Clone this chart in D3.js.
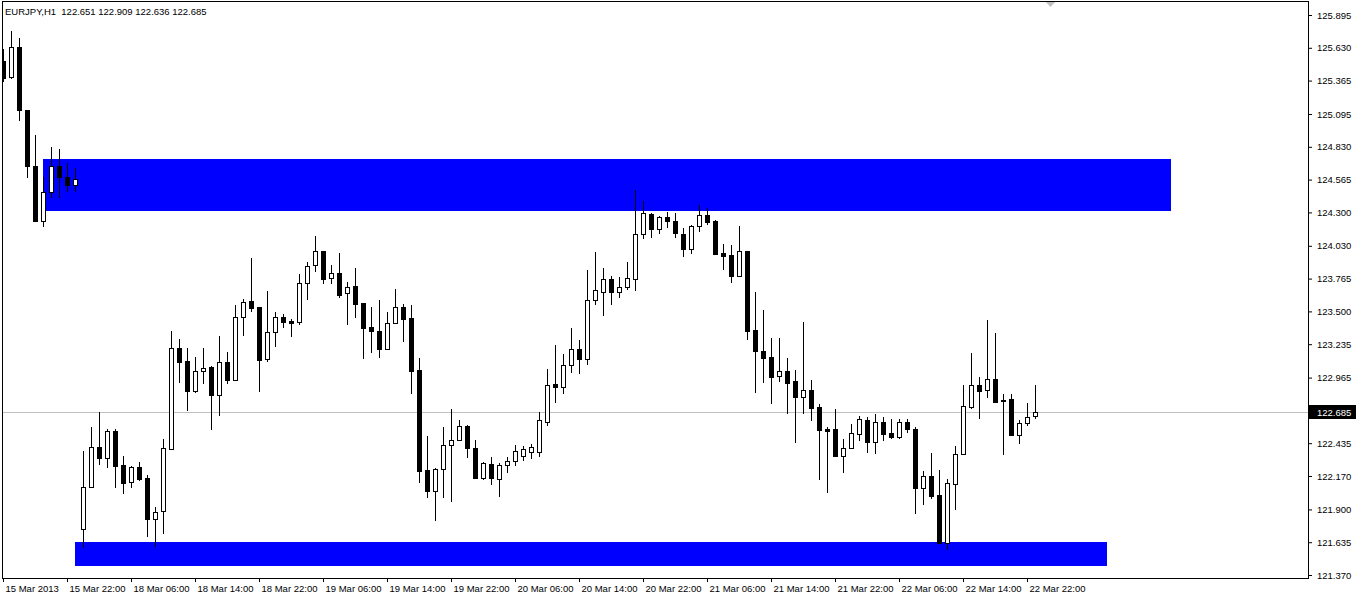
<!DOCTYPE html>
<html>
<head>
<meta charset="utf-8">
<script src="https://cdn.jsdelivr.net/npm/d3@7"></script>
<style>
	html, body { margin:0; padding:0; background:#fff; }
	svg { display:block; }
	text { font-family:"Liberation Sans", Arial, sans-serif; font-size:9.5px; fill:#000; }
</style>
</head>
<body>
<svg id="chart" width="1356" height="597"></svg>
<script>
var symbol = "EURJPY,H1";

// hourly bars, one entry per candle (15 Mar 14:00 .. 22 Mar 23:00)
var opens = [
	125.523,125.394,125.636,125.127,124.675,124.230,124.465,124.675,124.586,124.521,
	121.745,122.081,122.404,122.315,122.534,122.259,122.121,122.243,122.154,121.822,
	121.887,122.388,123.204,123.099,122.857,123.018,123.051,122.824,123.091,122.946,
	123.455,123.584,123.535,123.115,123.333,123.455,123.422,123.414,123.729,123.875,
	123.988,123.770,123.810,123.649,123.705,123.568,123.374,123.342,123.196,123.406,
	123.535,123.447,123.026,122.218,122.049,122.226,122.420,122.461,122.574,122.396,
	122.154,122.267,122.146,122.259,122.291,122.332,122.364,122.364,122.606,122.913,
	122.889,123.067,123.196,123.115,123.592,123.657,123.762,123.657,123.697,123.762,
	124.125,124.287,124.166,124.263,124.230,124.125,124.004,124.190,124.279,124.230,
	123.972,123.956,123.786,123.988,123.350,123.180,123.131,122.978,123.018,122.938,
	122.808,122.865,122.727,122.550,122.550,122.332,122.396,122.509,122.622,122.445,
	122.606,122.517,122.485,122.606,122.550,122.073,122.170,122.016,121.629,122.105,
	122.348,122.727,122.905,122.865,122.954,122.784,122.792,122.501,122.598,122.651
];
var highs = [
	125.620,125.766,125.709,125.127,124.925,124.586,124.828,124.812,124.699,124.659,
	122.376,122.566,122.687,122.550,122.550,122.332,122.251,122.283,122.178,121.919,
	122.469,123.342,123.277,123.204,123.131,123.204,123.059,123.301,123.172,123.552,
	123.600,123.931,123.535,123.665,123.495,123.479,123.438,123.802,123.899,124.109,
	123.988,123.875,123.972,123.737,123.851,123.568,123.535,123.592,123.495,123.681,
	123.560,123.552,123.123,122.493,122.234,122.566,122.711,122.622,122.582,122.461,
	122.283,122.323,122.275,122.323,122.420,122.412,122.428,122.687,123.034,123.228,
	123.156,123.366,123.269,123.834,123.980,123.851,123.786,123.778,123.899,124.481,
	124.392,124.295,124.271,124.303,124.295,124.174,124.198,124.360,124.335,124.238,
	124.044,124.036,124.190,123.988,123.657,123.511,123.285,123.285,123.123,123.026,
	123.414,122.946,122.752,122.566,122.711,122.469,122.590,122.655,122.647,122.671,
	122.647,122.630,122.630,122.630,122.566,122.210,122.356,122.218,122.146,122.412,
	122.905,123.164,122.970,123.430,123.325,122.832,122.832,122.622,122.760,122.909
];
var lows = [
	125.362,125.386,125.046,124.586,124.230,124.190,124.424,124.424,124.473,124.473,
	121.596,122.081,122.267,122.243,122.081,122.033,122.081,122.138,121.685,121.604,
	121.709,122.388,122.929,122.703,122.849,122.921,122.550,122.663,122.921,122.946,
	123.309,123.503,122.857,123.099,123.220,123.374,123.301,123.398,123.600,123.826,
	123.729,123.729,123.616,123.398,123.455,123.123,123.172,123.131,123.196,123.406,
	123.261,122.841,122.121,122.000,121.814,122.000,121.968,122.461,122.323,122.154,
	122.146,122.105,122.008,122.202,122.259,122.299,122.315,122.332,122.582,122.768,
	122.841,123.010,123.002,123.075,123.560,123.471,123.560,123.616,123.681,123.673,
	124.093,124.101,124.133,124.182,124.101,123.948,123.972,124.150,124.206,123.964,
	123.842,123.737,123.786,123.277,122.849,122.929,122.760,122.938,122.679,122.445,
	122.679,122.622,122.146,122.041,122.332,122.202,122.396,122.461,122.364,122.356,
	122.461,122.477,122.477,122.525,121.871,121.944,121.992,121.629,121.580,121.903,
	122.348,122.719,122.639,122.808,122.768,122.348,122.501,122.437,122.582,122.636
];
var closes = [
	125.386,125.636,125.127,124.675,124.230,124.465,124.675,124.586,124.521,124.570,
	122.084,122.404,122.315,122.534,122.251,122.113,122.243,122.146,121.822,121.879,
	122.396,123.204,123.091,122.857,123.018,123.043,122.824,123.091,122.946,123.455,
	123.576,123.527,123.107,123.333,123.455,123.414,123.406,123.729,123.867,123.988,
	123.762,123.810,123.632,123.697,123.560,123.366,123.342,123.196,123.406,123.535,
	123.438,123.018,122.210,122.049,122.226,122.420,122.461,122.574,122.396,122.154,
	122.275,122.154,122.259,122.291,122.372,122.388,122.404,122.622,122.905,122.889,
	123.067,123.196,123.115,123.592,123.673,123.762,123.657,123.697,123.770,124.125,
	124.295,124.166,124.263,124.230,124.133,124.004,124.190,124.279,124.222,123.964,
	123.948,123.786,123.988,123.342,123.180,123.123,122.970,123.018,122.921,122.808,
	122.865,122.719,122.542,122.534,122.332,122.396,122.517,122.630,122.445,122.606,
	122.509,122.485,122.606,122.550,122.073,122.170,122.008,121.629,122.113,122.348,
	122.736,122.905,122.857,122.954,122.768,122.772,122.501,122.598,122.647,122.685
];

var priceTicks = [125.895,125.630,125.365,125.095,124.830,124.565,124.300,124.030,123.765,
	123.500,123.235,122.965,122.685,122.435,122.170,121.900,121.635,121.370];

var timeTickBars = [0,8,16,24,32,40,48,56,64,72,80,88,96,104,112,120,128];
var timeTickLabels = ["15 Mar 2013","15 Mar 22:00","18 Mar 06:00","18 Mar 14:00","18 Mar 22:00",
	"19 Mar 06:00","19 Mar 14:00","19 Mar 22:00","20 Mar 06:00","20 Mar 14:00","20 Mar 22:00",
	"21 Mar 06:00","21 Mar 14:00","21 Mar 22:00","22 Mar 06:00","22 Mar 14:00","22 Mar 22:00"];

// supply / demand rectangles (bar index range, price range)
var zoneFromBar = [5, 9];
var zoneToBar = [146, 138];
var zoneHigh = [124.731, 121.634];
var zoneLow = [124.311, 121.443];

var W = 1356, H = 597;
var plot = {left:2, top:1, right:1308, bottom:578};

var svg = d3.select("#chart");

var x = d3.scaleLinear().domain([0, 1]).range([3, 11]);
var y = d3.scaleLinear().domain([121.370, 125.895]).range([575, 15]);

svg.append("rect").attr("width", W).attr("height", H).attr("fill", "#fff");

svg.append("defs").append("clipPath").attr("id", "plotClip")
	.append("rect")
	.attr("x", plot.left + 1).attr("y", plot.top + 1)
	.attr("width", plot.right - plot.left - 1).attr("height", plot.bottom - plot.top - 1);

var area = svg.append("g").attr("clip-path", "url(#plotClip)");

// zones
var zones = d3.range(zoneFromBar.length).map(function(k){
	return {from:zoneFromBar[k], to:zoneToBar[k], hi:zoneHigh[k], lo:zoneLow[k]};
});
area.selectAll(".zone").data(zones).enter().append("rect")
	.attr("class", "zone")
	.attr("x", function(d){ return x(d.from); })
	.attr("width", function(d){ return x(d.to) - x(d.from); })
	.attr("y", function(d){ return Math.round(y(d.hi)); })
	.attr("height", function(d){ return Math.round(y(d.lo)) - Math.round(y(d.hi)); })
	.attr("fill", "#0000ff");

// bid line
var last = closes[closes.length - 1];
area.append("line")
	.attr("x1", plot.left).attr("x2", plot.right)
	.attr("y1", Math.round(y(last)) + 0.5).attr("y2", Math.round(y(last)) + 0.5)
	.attr("stroke", "#c0c0c0").attr("stroke-width", 1);

// candles
var bars = opens.map(function(o, i){
	return {i:i, o:o, h:highs[i], l:lows[i], c:closes[i]};
});
var candle = area.selectAll(".candle").data(bars).enter().append("g").attr("class", "candle");

candle.append("line")
	.attr("x1", function(d){ return x(d.i) + 0.5; })
	.attr("x2", function(d){ return x(d.i) + 0.5; })
	.attr("y1", function(d){ return Math.round(y(d.h)); })
	.attr("y2", function(d){ return Math.round(y(d.l)) + 1; })
	.attr("stroke", "#000").attr("stroke-width", 1);

candle.append("rect")
	.attr("x", function(d){ return d.c >= d.o ? x(d.i) - 1.5 : x(d.i) - 2; })
	.attr("width", function(d){ return d.c >= d.o ? 4 : 5; })
	.attr("y", function(d){
		var t = Math.round(y(Math.max(d.o, d.c)));
		return d.c >= d.o ? t + 0.5 : t;
	})
	.attr("height", function(d){
		var t = Math.round(y(Math.max(d.o, d.c))), b = Math.round(y(Math.min(d.o, d.c)));
		return d.c >= d.o ? Math.max(1, b - t) : Math.max(1, b - t + 1);
	})
	.attr("fill", function(d){ return d.c >= d.o ? "#fff" : "#000"; })
	.attr("stroke", function(d){ return d.c >= d.o ? "#000" : "none"; })
	.attr("stroke-width", 1);

// chart shift marker
svg.append("path")
	.attr("d", "M1045,1 L1056,1 L1050.5,7 Z")
	.attr("fill", "#c0c0c0");

// frame
svg.append("rect")
	.attr("x", plot.left + 0.5).attr("y", plot.top + 0.5)
	.attr("width", plot.right - plot.left).attr("height", plot.bottom - plot.top)
	.attr("fill", "none").attr("stroke", "#000").attr("stroke-width", 1);

// price axis
var yAxis = d3.axisRight(y).tickValues(priceTicks).tickSize(4).tickSizeOuter(0)
	.tickPadding(5).tickFormat(d3.format(".3f"));
var gy = svg.append("g").attr("transform", "translate(" + plot.right + ",0)").call(yAxis);
gy.select(".domain").remove();
gy.attr("font-family", null).attr("font-size", null);
gy.selectAll(".tick line").attr("stroke", "#000");

// time axis
var xAxis = d3.axisBottom(x).tickValues(timeTickBars).tickSize(4).tickSizeOuter(0)
	.tickPadding(3).tickFormat(function(d, k){ return timeTickLabels[k]; });
var gx = svg.append("g").attr("transform", "translate(0," + plot.bottom + ")").call(xAxis);
gx.select(".domain").remove();
gx.attr("font-family", null).attr("font-size", null);
gx.selectAll(".tick text").attr("text-anchor", "start").attr("x", 2);
gx.selectAll(".tick line").attr("stroke", "#000");

// current price tag
var ly = Math.round(y(last));
svg.append("rect")
	.attr("x", plot.right + 1).attr("y", ly - 7)
	.attr("width", W - plot.right - 1).attr("height", 14)
	.attr("fill", "#000");
svg.append("text")
	.attr("x", plot.right + 9).attr("y", ly + 4)
	.style("fill", "#fff")
	.text(d3.format(".3f")(last));

// header
svg.append("text")
	.attr("x", 5).attr("y", 15)
	.attr("xml:space", "preserve")
	.text(symbol + "  " + [opens[opens.length-1], highs[highs.length-1], lows[lows.length-1], last]
		.map(d3.format(".3f")).join(" "));
</script>
</body>
</html>
